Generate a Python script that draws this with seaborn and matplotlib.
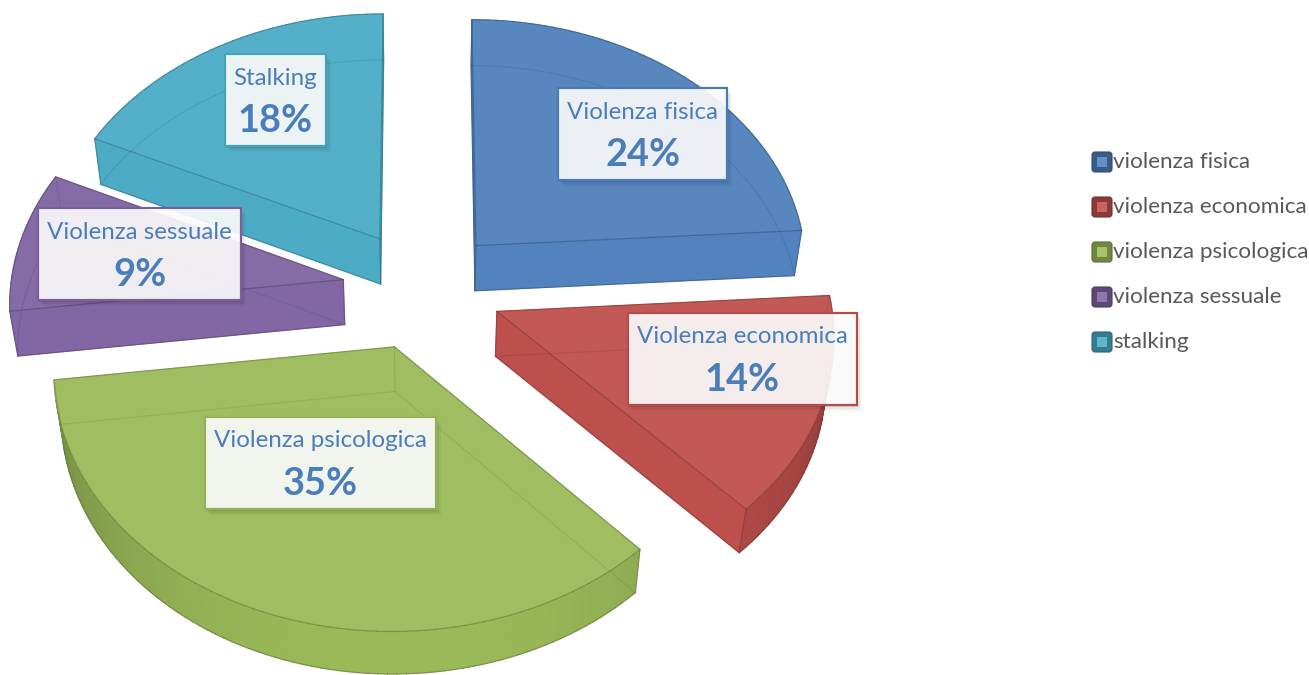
import numpy as np
import matplotlib
matplotlib.use("Agg")
import matplotlib.pyplot as plt
import seaborn as sns
from matplotlib.patches import Polygon, Rectangle, FancyBboxPatch
from matplotlib.collections import LineCollection
import matplotlib.colors as mcolors

# ---------------- data ----------------
categories = ["violenza fisica", "violenza economica", "violenza psicologica",
              "violenza sessuale", "stalking"]
label_names = ["Violenza fisica", "Violenza economica", "Violenza psicologica",
               "Violenza sessuale", "Stalking"]
values = [24, 14, 35, 9, 18]

# ---------------- style ----------------
palette = ["#4F81BD", "#C0504D", "#9BBB59", "#8064A2", "#4BACC6"]
label_shift = [(28, 0), (37, -15), (6, -52), (7, 0), (3, -11)]   # pixel nudges of data labels

sns.set_theme(style="white")
plt.rcParams['font.family'] = ['Lato', 'DejaVu Sans']

W, H = 1309, 675
fig = plt.figure(figsize=(W / 100, H / 100), dpi=100)
ax = fig.add_axes([0, 0, 1, 1])
ax.set_xlim(0, W)
ax.set_ylim(H, 0)
ax.axis('off')

# ---------------- 3D projection ----------------
ELEV = np.deg2rad(49)
ca, sa = np.cos(ELEV), np.sin(ELEV)
DIST = 8.0
SCALE = 333.0
F = SCALE * DIST
CX, CY = 422.0, 289.0
THICK = 0.21
EXPLODE = 0.24
cam = np.array([0.0, DIST * sa, -DIST * ca])


def proj(p):
    x, y, z = p
    v = y * ca + z * sa
    w = DIST + z * ca - y * sa
    return (CX + F * x / w, CY - F * v / w)


def depth(p):
    x, y, z = p
    return DIST + z * ca - y * sa


def mix(c, k):
    """k<1 darken, k>1 lighten towards white"""
    rgb = np.array(mcolors.to_rgb(c))
    if k <= 1:
        out = rgb * k
    else:
        out = rgb + (1 - rgb) * (k - 1)
    return tuple(np.clip(out, 0, 1))


def facing(n, p):
    d = cam - p
    return float(np.dot(n, d) / np.linalg.norm(d))


total = float(sum(values))
fracs = [v / total for v in values]
starts = np.cumsum([0] + fracs[:-1]) * 2 * np.pi
ends = starts + np.array(fracs) * 2 * np.pi

slices = []
for i in range(len(values)):
    a0, a1 = starts[i], ends[i]
    m = 0.5 * (a0 + a1)
    o = EXPLODE * np.array([np.sin(m), 0.0, np.cos(m)])
    slices.append((depth(o), i, a0, a1, m, o))

# draw far slices first
slices.sort(key=lambda s: -s[0])

for order, (_, i, a0, a1, m, o) in enumerate(slices):
    base = palette[i]
    top_col = mix(base, 1.05)
    dark = mix(base, 0.62)
    z0 = 2 + order
    n = max(3, int(np.degrees(a1 - a0) / 1.5))
    th = np.linspace(a0, a1, n)
    top_rim = [o + np.array([np.sin(t), 0.0, np.cos(t)]) for t in th]
    bot_rim = [o + np.array([np.sin(t), -THICK, np.cos(t)]) for t in th]
    tipT = o.copy()
    tipB = o + np.array([0.0, -THICK, 0.0])

    # side quads
    side_vis = []
    for k in range(n - 1):
        tm = 0.5 * (th[k] + th[k + 1])
        nrm = np.array([np.sin(tm), 0.0, np.cos(tm)])
        quad = [top_rim[k], top_rim[k + 1], bot_rim[k + 1], bot_rim[k]]
        cen = np.mean(quad, axis=0)
        f = facing(nrm, cen)
        vis = f > 0
        side_vis.append(vis)
        if vis:
            col = mix(base, 0.76 + 0.27 * min(1, f * 1.6))
            ax.add_patch(Polygon([proj(p) for p in quad], closed=True,
                                 facecolor=col, edgecolor=col, lw=0.6, zorder=z0))

    # cut faces
    cut_vis = []
    for ang, nrm in ((a0, np.array([-np.cos(a0), 0.0, np.sin(a0)])),
                     (a1, np.array([np.cos(a1), 0.0, -np.sin(a1)]))):
        rt = o + np.array([np.sin(ang), 0.0, np.cos(ang)])
        rb = rt + np.array([0.0, -THICK, 0.0])
        quad = [tipT, rt, rb, tipB]
        cen = np.mean(quad, axis=0)
        f = facing(nrm, cen)
        vis = f > 0.01
        cut_vis.append(vis)
        if vis:
            col = mix(base, 0.9 + 0.12 * min(1, f * 1.5))
            ax.add_patch(Polygon([proj(p) for p in quad], closed=True,
                                 facecolor=col, edgecolor=col, lw=0.6, zorder=z0))

    # top face
    ax.add_patch(Polygon([proj(tipT)] + [proj(p) for p in top_rim], closed=True,
                         facecolor=top_col, edgecolor=top_col, lw=0.6, zorder=z0))

    # edges
    segs, cols, lws = [], [], []

    def add(p, q, vis):
        segs.append([proj(p), proj(q)])
        if vis:
            cols.append(mcolors.to_rgba(dark, 0.55))
            lws.append(0.9)
        else:
            cols.append(mcolors.to_rgba(dark, 0.22))
            lws.append(0.8)

    for k in range(n - 1):
        add(top_rim[k], top_rim[k + 1], True)
        add(bot_rim[k], bot_rim[k + 1], side_vis[k])
    add(tipT, top_rim[0], True)
    add(tipT, top_rim[-1], True)
    add(tipB, bot_rim[0], cut_vis[0])
    add(tipB, bot_rim[-1], cut_vis[1])
    add(tipT, tipB, cut_vis[0] or cut_vis[1])
    add(top_rim[0], bot_rim[0], cut_vis[0] or side_vis[0])
    add(top_rim[-1], bot_rim[-1], cut_vis[1] or side_vis[-1])
    ax.add_collection(LineCollection(segs, colors=cols, linewidths=lws,
                                     zorder=z0 + 0.5, capstyle='round'))

# ---------------- data labels ----------------
renderer = fig.canvas.get_renderer()


def fit_size(text, target, weight, trial=20.0):
    t = ax.text(0, 0, text, fontsize=trial, fontweight=weight)
    w = t.get_window_extent(renderer).width
    t.remove()
    return trial * target / w


name_fs = fit_size("Violenza fisica", 151, 'normal')
pct_fs = fit_size("24%", 75, 'bold')
leg_fs = fit_size("violenza economica", 193, 'normal')
txt_col = "#4A7EBB"

for i in range(len(values)):
    a0, a1 = starts[i], ends[i]
    m = 0.5 * (a0 + a1)
    r = EXPLODE + 0.65
    lx, ly = proj(np.array([r * np.sin(m), 0.0, r * np.cos(m)]))
    lx += label_shift[i][0]
    ly += label_shift[i][1]
    t1 = ax.text(lx, ly - 22, label_names[i], fontsize=name_fs, color=txt_col,
                 ha='center', va='center', zorder=31)
    t2 = ax.text(lx, ly + 21, f"{values[i]}%", fontsize=pct_fs, color=txt_col,
                 fontweight='bold', ha='center', va='center', zorder=31)
    wmax = max(t1.get_window_extent(renderer).width, t2.get_window_extent(renderer).width)
    bw, bh = wmax + 18, 92
    bx, by = lx - bw / 2, ly - bh / 2
    for s, al in ((7, 0.04), (5, 0.06), (3, 0.08)):
        ax.add_patch(Rectangle((bx + s - 2, by + s - 1), bw, bh, facecolor='black',
                               edgecolor='none', alpha=al, zorder=28))
    ax.add_patch(Rectangle((bx, by), bw, bh, facecolor=mcolors.to_rgba("white", 0.9),
                           edgecolor=mix(palette[i], 0.95), lw=1.6, zorder=30))

# ---------------- legend ----------------
leg_x, leg_y0, leg_dy, sq = 1092, 162, 45, 20
for i, name in enumerate(categories):
    y = leg_y0 + i * leg_dy
    ax.add_patch(FancyBboxPatch((leg_x, y - sq / 2), sq, sq,
                                boxstyle="round,pad=0,rounding_size=3",
                                facecolor=mix(palette[i], 0.72), edgecolor=mix(palette[i], 0.6),
                                lw=0.8, zorder=40))
    ax.add_patch(Rectangle((leg_x + 5, y - 5), 10, 10, facecolor=mix(palette[i], 1.12),
                           edgecolor='none', zorder=41))
    ax.text(leg_x + sq + 1, y, name, fontsize=leg_fs, color="#595959",
            ha='left', va='center', zorder=41)

fig.savefig("out.png", dpi=100)
